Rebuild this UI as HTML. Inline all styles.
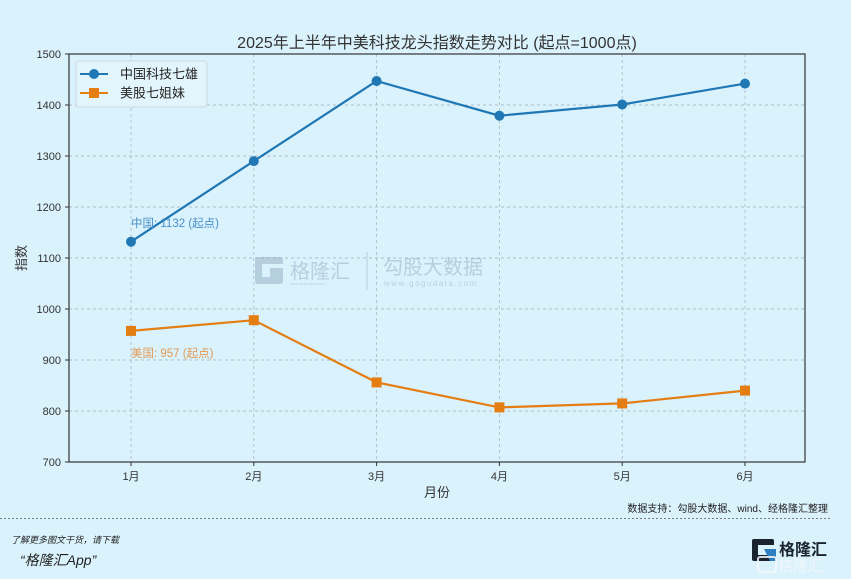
<!DOCTYPE html>
<html><head><meta charset="utf-8">
<style>
html,body{margin:0;padding:0;background:#daf2fc;}
svg{display:block;}
text{font-family:"Liberation Sans","Noto Sans CJK SC",sans-serif;}
</style></head>
<body>
<svg width="851" height="579" viewBox="0 0 851 579" xmlns="http://www.w3.org/2000/svg">
<rect x="0" y="0" width="851" height="579" fill="#daf2fc"/>
<!-- grid -->
<g stroke="#aebfc9" stroke-width="0.9" stroke-dasharray="3,3">
<line x1="69" y1="105" x2="805" y2="105"/>
<line x1="69" y1="156" x2="805" y2="156"/>
<line x1="69" y1="207" x2="805" y2="207"/>
<line x1="69" y1="258" x2="805" y2="258"/>
<line x1="69" y1="309" x2="805" y2="309"/>
<line x1="69" y1="360" x2="805" y2="360"/>
<line x1="69" y1="411" x2="805" y2="411"/>
<line x1="131" y1="54" x2="131" y2="462"/>
<line x1="253.8" y1="54" x2="253.8" y2="462"/>
<line x1="376.6" y1="54" x2="376.6" y2="462"/>
<line x1="499.4" y1="54" x2="499.4" y2="462"/>
<line x1="622.2" y1="54" x2="622.2" y2="462"/>
<line x1="745" y1="54" x2="745" y2="462"/>
</g>
<!-- watermark -->
<g opacity="0.45">
<rect x="255" y="257" width="28" height="27" rx="3" fill="#8aa6bb"/>
<rect x="262" y="264" width="21" height="13" fill="#daf2fc"/>
<rect x="270" y="268" width="13" height="9" fill="#8aa6bb"/>
<text x="290" y="278" font-size="20" fill="#8aa6bb">格隆汇</text>
<text x="290" y="285" font-size="4" fill="#8aa6bb">www.gelonghui.com</text>
<line x1="367" y1="252" x2="367" y2="290" stroke="#8aa6bb" stroke-width="1"/>
<text x="383" y="274" font-size="20" fill="#8aa6bb">勾股大数据</text>
<text x="384" y="286" font-size="8" fill="#8aa6bb" letter-spacing="1.5">www.gogudata.com</text>
</g>
<!-- axes spines -->
<rect x="69" y="54" width="736" height="408" fill="none" stroke="#333" stroke-width="1.2"/>
<!-- ticks -->
<g stroke="#333" stroke-width="1">
<line x1="65" y1="54" x2="69" y2="54"/><line x1="65" y1="105" x2="69" y2="105"/><line x1="65" y1="156" x2="69" y2="156"/><line x1="65" y1="207" x2="69" y2="207"/><line x1="65" y1="258" x2="69" y2="258"/><line x1="65" y1="309" x2="69" y2="309"/><line x1="65" y1="360" x2="69" y2="360"/><line x1="65" y1="411" x2="69" y2="411"/><line x1="65" y1="462" x2="69" y2="462"/>
<line x1="131" y1="462" x2="131" y2="466"/><line x1="253.8" y1="462" x2="253.8" y2="466"/><line x1="376.6" y1="462" x2="376.6" y2="466"/><line x1="499.4" y1="462" x2="499.4" y2="466"/><line x1="622.2" y1="462" x2="622.2" y2="466"/><line x1="745" y1="462" x2="745" y2="466"/>
</g>
<g font-size="11" fill="#333" text-anchor="end">
<text x="61" y="58">1500</text><text x="61" y="109">1400</text><text x="61" y="160">1300</text><text x="61" y="211">1200</text><text x="61" y="262">1100</text><text x="61" y="313">1000</text><text x="61" y="364">900</text><text x="61" y="415">800</text><text x="61" y="466">700</text>
</g>
<g font-size="11" fill="#333" text-anchor="middle">
<text x="131" y="480">1月</text><text x="253.8" y="480">2月</text><text x="376.6" y="480">3月</text><text x="499.4" y="480">4月</text><text x="622.2" y="480">5月</text><text x="745" y="480">6月</text>
</g>
<text x="437" y="497" font-size="13" fill="#333" text-anchor="middle">月份</text>
<text transform="translate(26,258) rotate(-90)" font-size="13" fill="#333" text-anchor="middle">指数</text>
<text x="437" y="48" font-size="16" fill="#333" text-anchor="middle">2025年上半年中美科技龙头指数走势对比 (起点=1000点)</text>
<!-- series -->
<polyline fill="none" stroke="#1f77b4" stroke-width="2.2" points="131,241.7 253.8,161.1 376.6,81 499.4,115.7 622.2,104.5 745,83.6"/>
<g fill="#1f77b4">
<circle cx="131" cy="241.7" r="5"/><circle cx="253.8" cy="161.1" r="5"/><circle cx="376.6" cy="81" r="5"/><circle cx="499.4" cy="115.7" r="5"/><circle cx="622.2" cy="104.5" r="5"/><circle cx="745" cy="83.6" r="5"/>
</g>
<polyline fill="none" stroke="#e47d12" stroke-width="2.2" points="131,330.9 253.8,320.2 376.6,382.4 499.4,407.4 622.2,403.4 745,390.6"/>
<g fill="#e47d12">
<rect x="126" y="325.9" width="10" height="10"/><rect x="248.8" y="315.2" width="10" height="10"/><rect x="371.6" y="377.4" width="10" height="10"/><rect x="494.4" y="402.4" width="10" height="10"/><rect x="617.2" y="398.4" width="10" height="10"/><rect x="740" y="385.6" width="10" height="10"/>
</g>
<!-- annotations -->
<text x="131" y="227" font-size="11.5" fill="#4a90c8">中国: 1132 (起点)</text>
<text x="131" y="357" font-size="11.5" fill="#e39a55">美国: 957 (起点)</text>
<!-- legend -->
<rect x="76" y="61" width="131" height="46" rx="3" fill="#e3f5fc" stroke="#cdd8dd" stroke-width="1"/>
<line x1="80" y1="74" x2="108" y2="74" stroke="#1f77b4" stroke-width="2"/>
<circle cx="94" cy="74" r="5" fill="#1f77b4"/>
<text x="120" y="78.5" font-size="13" fill="#222">中国科技七雄</text>
<line x1="80" y1="93" x2="108" y2="93" stroke="#e47d12" stroke-width="2"/>
<rect x="89" y="88" width="10" height="10" fill="#e47d12"/>
<text x="120" y="97.5" font-size="13" fill="#222">美股七姐妹</text>
<!-- footer -->
<text x="828" y="512" font-size="10" fill="#222" text-anchor="end">数据支持：勾股大数据、wind、经格隆汇整理</text>
<line x1="0" y1="518.5" x2="832" y2="518.5" stroke="#555" stroke-width="0.8" stroke-dasharray="2,2"/>
<text x="11" y="543" font-size="9" font-style="italic" fill="#222">了解更多图文干货，请下载</text>
<text x="20" y="565" font-size="14" font-style="italic" fill="#222">“格隆汇App”</text>
<!-- logo -->
<rect x="752" y="539" width="22" height="22" rx="2" fill="#1a2330"/>
<rect x="758" y="545" width="16" height="10" fill="#daf2fc"/>
<polygon points="764,549 776,549 776,561 770,561" fill="#2f7fc0"/>
<text x="779" y="555" font-size="16" font-weight="bold" fill="#1a2330">格隆汇</text>
<text x="778" y="571" font-size="15" fill="#f4f8fa" opacity="0.85">格隆汇</text>
<rect x="758" y="557" width="18" height="15" rx="2" fill="none" stroke="#f4f8fa" stroke-width="2" opacity="0.85"/>
</svg>
</body></html>
